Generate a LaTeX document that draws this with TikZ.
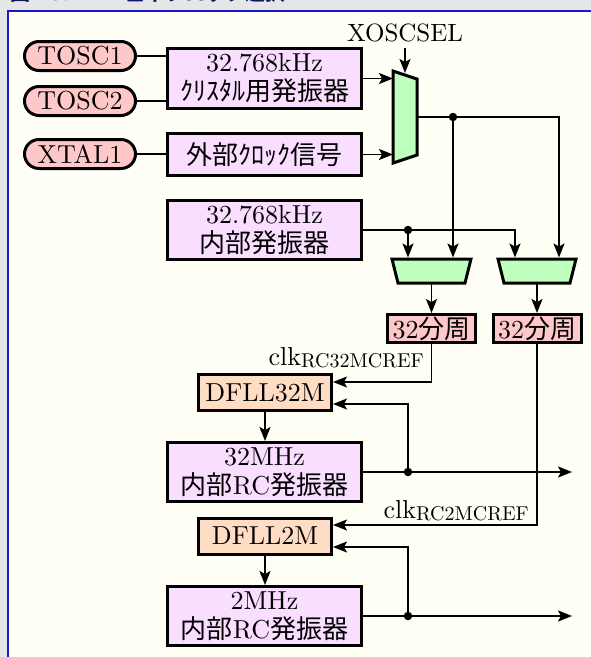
\documentclass[tikz,border=0pt]{standalone}
\usepackage{fontspec}
\setmainfont{lmroman10-regular.otf}
\newfontfamily\jp{Noto Sans CJK JP}
\usetikzlibrary{arrows.meta,shapes.misc}
\definecolor{pinkfill}{RGB}{255,200,200}
\definecolor{lavfill}{RGB}{250,222,255}
\definecolor{peachfill}{RGB}{255,220,196}
\definecolor{muxfill}{RGB}{190,255,190}
\definecolor{panelbg}{RGB}{255,255,246}
\definecolor{outerbg}{RGB}{230,230,230}
\definecolor{framebl}{RGB}{24,24,210}
\definecolor{titlebl}{RGB}{20,20,100}
\newcommand\J[1]{{\jp #1}}
\newcommand\lblfont{\fontsize{26}{29}\selectfont}
\newcommand\clklbl[1]{{\fontsize{26}{26}\selectfont clk}\raisebox{-2pt}{\fontsize{20}{20}\selectfont #1}}
\tikzset{
  pinbox/.style={rounded rectangle, draw, line width=3pt, fill=pinkfill,
    minimum width=111pt, minimum height=29pt, inner sep=0pt, font=\lblfont},
  blk/.style={rectangle, draw, line width=3pt, fill=lavfill,
    minimum width=194pt, inner sep=0pt, align=center, font=\lblfont},
  dfllbox/.style={rectangle, draw, line width=3pt, fill=peachfill,
    minimum width=133pt, minimum height=36pt, inner sep=0pt, font=\lblfont},
  divbox/.style={rectangle, draw, line width=3pt, fill=pinkfill,
    minimum width=88pt, minimum height=28pt, inner sep=0pt, font=\lblfont},
  muxs/.style={draw, line width=3pt, fill=muxfill, line join=miter},
  wire/.style={line width=1.4pt},
  arr/.style={wire, -{Stealth[length=14pt,width=11pt,inset=3pt]}},
  junction/.style={circle, fill, inner sep=0pt, minimum size=8.5pt},
}
\begin{document}
\begin{tikzpicture}[x=1pt,y=-1pt]
\useasboundingbox (0,0) rectangle (591,657);
% page background, panel and frame
\fill[outerbg] (0,0) rectangle (591,657);
\fill[panelbg] (8,11) rectangle (591,657);
\draw[framebl, line width=2pt] (8,657) -- (8,11) -- (591,11);
% caption (its upper part lies outside the page)
\begin{scope}
  \clip (0,0) rectangle (591,10);
  \node[anchor=base west, inner sep=0pt, text=titlebl, font={\fontsize{20}{20}\selectfont\jp\bfseries}] (caption) at (10,0) {図7-3. DFLL基準クロック選択};
\end{scope}

% pins
\node[pinbox] (tosc1) at (80,56) {TOSC1};
\node[pinbox] (tosc2) at (80,101) {TOSC2};
\node[pinbox] (xtal1) at (80,154) {XTAL1};

% oscillator blocks
\node[blk, minimum height=60pt] (xosc) at (264.5,78.5) {32.768kHz\\\J{ｸﾘｽﾀﾙ用発振器}};
\node[blk, minimum height=42pt] (extclk) at (264.5,154.5) {\J{外部ｸﾛｯｸ信号}};
\node[blk, minimum height=59pt] (int32k) at (264.5,230) {32.768kHz\\\J{内部発振器}};
\node[dfllbox] (dfll32) at (265,392.5) {DFLL32M};
\node[blk, minimum height=59pt] (rc32) at (264.5,472) {32MHz\\\J{内部}RC\J{発振器}};
\node[dfllbox] (dfll2) at (265,536) {DFLL2M};
\node[blk, minimum height=59pt] (rc2) at (264.5,616) {2MHz\\\J{内部}RC\J{発振器}};
\node[divbox] (divA) at (431.5,328.5) {32\J{分周}};
\node[divbox] (divB) at (537,328.5) {32\J{分周}};
\node[inner sep=0pt, font={\fontsize{25}{25}\selectfont}] (xsel) at (405,33) {XOSCSEL};

% XOSCSEL multiplexer
\coordinate (mx1) at (393,71);
\coordinate (mx2) at (417,79);
\coordinate (mx3) at (417,155);
\coordinate (mx4) at (393,163);
\coordinate (mxout) at (417,117);
\coordinate (selin) at (405,73);
\filldraw[muxs] (mx1) -- (mx2) -- (mx3) -- (mx4) -- cycle;

% reference selectors
\coordinate (ma1) at (392,259); \coordinate (ma2) at (471,259);
\coordinate (ma3) at (465,283); \coordinate (ma4) at (398,283);
\coordinate (mb1) at (498,259); \coordinate (mb2) at (576,259);
\coordinate (mb3) at (570,283); \coordinate (mb4) at (504,283);
\filldraw[muxs] (ma1) -- (ma2) -- (ma3) -- (ma4) -- cycle;
\filldraw[muxs] (mb1) -- (mb2) -- (mb3) -- (mb4) -- cycle;
\coordinate (aout) at (431.5,283);
\coordinate (bout) at (537,283);
\coordinate (ain1) at (408,257.5);
\coordinate (ain2) at (453,257.5);
\coordinate (bin1) at (515,257.5);
\coordinate (bin2) at (559,257.5);

% junction points
\coordinate (j1) at (453,117);
\coordinate (j2) at (408,230);
\coordinate (j3) at (408,472);
\coordinate (j4) at (408,616);

% pin connections
\draw[wire] (tosc1.east) -- (tosc1.east -| xosc.west);
\draw[wire] (tosc2.east) -- (tosc2.east -| xosc.west);
\draw[wire] (xtal1.east) -- (xtal1.east -| extclk.west);

% into the XOSCSEL multiplexer
\draw[arr] (xosc.east) -- (xosc.east -| mx1);
\draw[arr] (extclk.east) -- (extclk.east -| mx1);
\draw[arr, shorten <=6pt] (xsel.south) -- (selin);

% to the selectors
\draw[arr] (mxout) -| (bin2);
\draw[arr] (j1) -- (ain2);
\draw[arr] (int32k.east) -| (bin1);
\draw[arr] (j2) -- (ain1);
\draw[arr] (aout) -- (divA.north);
\draw[arr] (bout) -- (divB.north);

% DFLL references and feedback
\coordinate (r32in) at ([yshift=10.5pt]dfll32.east);
\coordinate (r32fb) at ([yshift=-11.5pt]dfll32.east);
\coordinate (r2in) at ([yshift=11pt]dfll2.east);
\coordinate (r2fb) at ([yshift=-11pt]dfll2.east);
\coordinate (o32) at (572,472);
\coordinate (o2) at (572,616);
\draw[arr] (divA.south) |- (r32in);
\draw[arr] (divB.south) |- (r2in);
\draw[arr] (dfll32.south) -- (dfll32.south |- rc32.north);
\draw[arr] (dfll2.south) -- (dfll2.south |- rc2.north);
\draw[arr] (rc32.east) -- (o32);
\draw[arr] (rc2.east) -- (o2);
\draw[arr] (j3) |- (r32fb);
\draw[arr] (j4) |- (r2fb);

% clock reference labels
\node[anchor=base east, inner sep=0pt] (clk32lbl) at (424,365) {\clklbl{RC32MCREF}};
\node[anchor=base east, inner sep=0pt] (clk2lbl) at (529,518) {\clklbl{RC2MCREF}};

% junction dots
\node[junction] (dj1) at (j1) {};
\node[junction] (dj2) at (j2) {};
\node[junction] (dj3) at (j3) {};
\node[junction] (dj4) at (j4) {};
\end{tikzpicture}
\end{document}
